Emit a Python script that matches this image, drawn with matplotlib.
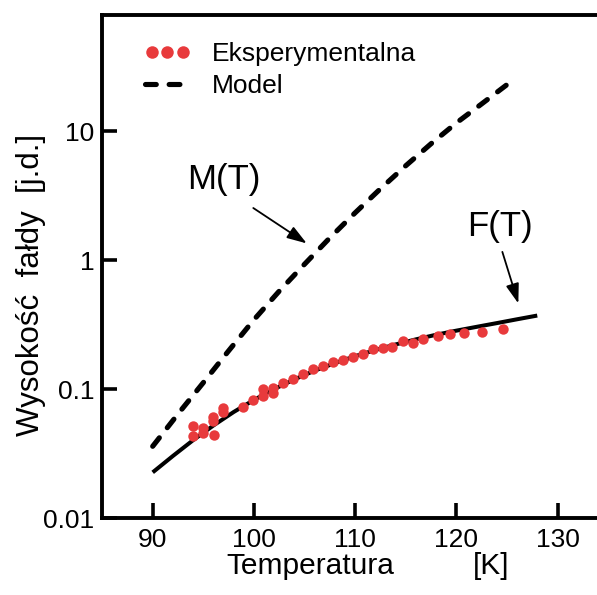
import matplotlib
matplotlib.use("Agg")
import matplotlib.pyplot as plt
from matplotlib.legend_handler import HandlerLine2D
from matplotlib.ticker import FixedLocator, FixedFormatter, NullLocator

plt.rcParams["font.family"] = ["Liberation Sans", "DejaVu Sans"]

# measured fold height (experiment)
exp_T = [93.95, 93.95, 95.0, 95.0, 96.06, 95.99, 95.99, 96.92, 96.98, 98.95,
         99.94, 100.87, 100.87, 101.86, 101.86, 102.85, 103.83, 104.88, 105.81,
         106.8, 107.79, 108.77, 109.76, 110.75, 111.8, 112.73, 113.65, 114.7,
         115.69, 116.68, 118.22, 119.38, 120.76, 122.51, 124.58]
exp_h = [0.0513, 0.0435, 0.0499, 0.0456, 0.0440, 0.0607, 0.0561, 0.0713, 0.0659,
         0.0725, 0.0816, 0.0877, 0.1000, 0.1018, 0.0931, 0.1113, 0.1196, 0.1298,
         0.1429, 0.1516, 0.1628, 0.1687, 0.1790, 0.1867, 0.2042, 0.2080, 0.2138,
         0.2356, 0.2297, 0.2441, 0.2588, 0.2683, 0.2717, 0.2797, 0.2934]

# model M(T)
model_T = [90, 92.5, 95, 97.5, 100, 102.5, 105, 107.5, 110, 112.5, 115, 117.5,
           120, 122.5, 125.1]
model_h = [0.036, 0.0641, 0.1122, 0.198, 0.345, 0.575, 0.93, 1.49, 2.33, 3.58,
           5.4, 8.0, 11.6, 16.3, 23.3]

# fitted F(T)
fit_T = [90, 92, 94, 96, 98, 100, 102, 104, 106, 108, 110, 112, 114, 116, 118,
         120, 122, 124, 126, 128]
fit_h = [0.0226, 0.0303, 0.0402, 0.0522, 0.0664, 0.0824, 0.100, 0.119, 0.139,
         0.159, 0.180, 0.201, 0.222, 0.243, 0.264, 0.284, 0.304, 0.325, 0.348,
         0.372]

x_ticks = [90, 100, 110, 120, 130]
y_ticks = [0.01, 0.1, 1, 10]
y_tick_labels = ["0.01", "0.1", "1", "10"]

red = "#e83a3c"

fig = plt.figure(figsize=(5.97, 5.95), dpi=100)
fig.patch.set_facecolor("white")
ax = fig.add_axes([0.171, 0.1294, 0.8476, 0.8456])

ax.plot(fit_T, fit_h, color="black", lw=2.9, solid_capstyle="butt", zorder=2)
dots, = ax.plot(exp_T, exp_h, "o", color=red, ms=7.5, mec="none",
                label="Eksperymentalna", zorder=3)
model, = ax.plot(model_T, model_h, color="black", lw=3.7, dashes=(2.1, 2.5),
                 dash_capstyle="round", label="Model", zorder=2)

ax.set_yscale("log")
ax.set_xlim(85, 135)
ax.set_ylim(0.01, 80)

ax.xaxis.set_major_locator(FixedLocator(x_ticks))
ax.yaxis.set_major_locator(FixedLocator(y_ticks))
ax.yaxis.set_major_formatter(FixedFormatter(y_tick_labels))
ax.yaxis.set_minor_locator(NullLocator())
ax.tick_params(axis="both", which="major", direction="in", length=11,
               width=2.6, labelsize=19, colors="black")
ax.tick_params(axis="x", pad=7.5)
ax.tick_params(axis="y", pad=5.5)

for side in ["left", "bottom", "top"]:
    ax.spines[side].set_linewidth(2.8)
ax.spines["right"].set_visible(False)

# curve labels with arrows
ax.text(97.0, 4.25, "M(T)", fontsize=25, ha="center", va="center")
ax.text(124.34, 1.84, "F(T)", fontsize=25, ha="center", va="center")
arrow = dict(arrowstyle="-|>,head_length=0.6,head_width=0.2", lw=1.3,
             color="black", shrinkA=0, shrinkB=0, mutation_scale=20)
ax.annotate("", xy=(105.22, 1.35), xytext=(99.94, 2.54), arrowprops=arrow)
ax.annotate("", xy=(126.13, 0.462), xytext=(124.55, 1.16), arrowprops=arrow)

leg = ax.legend(handles=[dots, model], loc="upper left",
                bbox_to_anchor=(137 / 597, 1 - 42 / 595),
                bbox_transform=fig.transFigure, frameon=False, fontsize=19,
                numpoints=3, markerscale=1.2, handlelength=2.3,
                handletextpad=0.55, labelspacing=0.3, borderpad=0,
                borderaxespad=0,
                handler_map={dots: HandlerLine2D(marker_pad=0.55)})

fig.text(226 / 597, 1 - 574 / 595, "Temperatura", fontsize=21.5,
         ha="left", va="baseline")
fig.text(473 / 597, 1 - 574 / 595, "[K]", fontsize=21.5,
         ha="left", va="baseline")
fig.text(31 / 597, 1 - 285 / 595, "Wysokość  fałdy  [j.d.]", fontsize=22.5,
         rotation=90, ha="center", va="center")

fig.savefig("out.png", dpi=100, facecolor="white")
